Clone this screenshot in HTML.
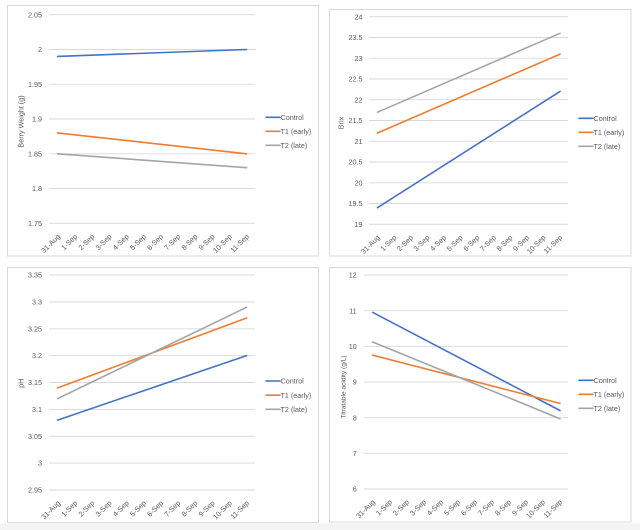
<!DOCTYPE html>
<html><head><meta charset="utf-8"><style>
html,body{margin:0;padding:0;background:#fff;}
svg{display:block;}
text{font-family:"Liberation Sans",sans-serif;fill:#595959;font-size:7.2px;}
.g{stroke:#d9d9d9;stroke-width:0.9;}
.f{fill:#fff;stroke:#d9d9d9;stroke-width:1;}
.s{fill:none;stroke-width:1.6;stroke-linecap:round;}
</style></head><body>
<svg width="640" height="530" viewBox="0 0 640 530" xmlns="http://www.w3.org/2000/svg">
<rect x="0" y="523.5" width="640" height="7" fill="#f3f3f3"/>
<!-- frames -->
<rect class="f" x="7.5" y="5.5" width="311" height="250.5"/>
<rect class="f" x="329.5" y="9.5" width="301.5" height="246.5"/>
<rect class="f" x="7.5" y="267.5" width="311" height="255"/>
<rect class="f" x="329.5" y="267.5" width="301.5" height="254.5"/>

<!-- ===== Panel 1 ===== -->
<g>
<line class="g" x1="49" x2="255" y1="14.7" y2="14.7"/>
<line class="g" x1="49" x2="255" y1="49.5" y2="49.5"/>
<line class="g" x1="49" x2="255" y1="84.2" y2="84.2"/>
<line class="g" x1="49" x2="255" y1="119" y2="119"/>
<line class="g" x1="49" x2="255" y1="153.8" y2="153.8"/>
<line class="g" x1="49" x2="255" y1="188.5" y2="188.5"/>
<line class="g" x1="49" x2="255" y1="223.3" y2="223.3"/>
<g text-anchor="end">
<text x="42" y="17.3">2.05</text>
<text x="42" y="52.1">2</text>
<text x="42" y="86.8">1.95</text>
<text x="42" y="121.6">1.9</text>
<text x="42" y="156.4">1.85</text>
<text x="42" y="191.1">1.8</text>
<text x="42" y="225.9">1.75</text>
</g>
<text transform="translate(23.5,121.5) rotate(-90)" text-anchor="middle">Berry Weight (g)</text>
<g text-anchor="end">
<text transform="translate(60.6,237) rotate(-45)">31-Aug</text>
<text transform="translate(77.8,237) rotate(-45)">1-Sep</text>
<text transform="translate(94.9,237) rotate(-45)">2-Sep</text>
<text transform="translate(112.1,237) rotate(-45)">3-Sep</text>
<text transform="translate(129.3,237) rotate(-45)">4-Sep</text>
<text transform="translate(146.4,237) rotate(-45)">5-Sep</text>
<text transform="translate(163.6,237) rotate(-45)">6-Sep</text>
<text transform="translate(180.8,237) rotate(-45)">7-Sep</text>
<text transform="translate(197.9,237) rotate(-45)">8-Sep</text>
<text transform="translate(215.1,237) rotate(-45)">9-Sep</text>
<text transform="translate(232.3,237) rotate(-45)">10-Sep</text>
<text transform="translate(249.4,237) rotate(-45)">11-Sep</text>
</g>
<line class="s" stroke="#4472C4" x1="57.6" y1="56.4" x2="246.6" y2="49.5"/>
<line class="s" stroke="#ED7D31" x1="57.6" y1="132.9" x2="246.6" y2="153.8"/>
<line class="s" stroke="#A5A5A5" x1="57.6" y1="153.8" x2="246.6" y2="167.7"/>
<line class="s" stroke="#4472C4" x1="266" y1="117.3" x2="280" y2="117.3"/>
<line class="s" stroke="#ED7D31" x1="266" y1="131.3" x2="280" y2="131.3"/>
<line class="s" stroke="#A5A5A5" x1="266" y1="145.3" x2="280" y2="145.3"/>
<text x="280.5" y="120">Control</text>
<text x="280.5" y="134">T1 (early)</text>
<text x="280.5" y="148">T2 (late)</text>
</g>

<!-- ===== Panel 2 ===== -->
<g>
<line class="g" x1="369" x2="568" y1="16.7" y2="16.7"/>
<line class="g" x1="369" x2="568" y1="37.5" y2="37.5"/>
<line class="g" x1="369" x2="568" y1="58.2" y2="58.2"/>
<line class="g" x1="369" x2="568" y1="79" y2="79"/>
<line class="g" x1="369" x2="568" y1="99.7" y2="99.7"/>
<line class="g" x1="369" x2="568" y1="120.5" y2="120.5"/>
<line class="g" x1="369" x2="568" y1="141.3" y2="141.3"/>
<line class="g" x1="369" x2="568" y1="162" y2="162"/>
<line class="g" x1="369" x2="568" y1="182.8" y2="182.8"/>
<line class="g" x1="369" x2="568" y1="203.5" y2="203.5"/>
<line class="g" x1="369" x2="568" y1="224.3" y2="224.3"/>
<g text-anchor="end">
<text x="362.5" y="19.3">24</text>
<text x="362.5" y="40.1">23.5</text>
<text x="362.5" y="60.8">23</text>
<text x="362.5" y="81.6">22.5</text>
<text x="362.5" y="102.3">22</text>
<text x="362.5" y="123.1">21.5</text>
<text x="362.5" y="143.9">21</text>
<text x="362.5" y="164.6">20.5</text>
<text x="362.5" y="185.4">20</text>
<text x="362.5" y="206.1">19.5</text>
<text x="362.5" y="226.9">19</text>
</g>
<text transform="translate(343.5,123) rotate(-90)" text-anchor="middle">Brix</text>
<g text-anchor="end">
<text transform="translate(380.3,238) rotate(-45)">31-Aug</text>
<text transform="translate(396.9,238) rotate(-45)">1-Sep</text>
<text transform="translate(413.5,238) rotate(-45)">2-Sep</text>
<text transform="translate(430,238) rotate(-45)">3-Sep</text>
<text transform="translate(446.6,238) rotate(-45)">4-Sep</text>
<text transform="translate(463.2,238) rotate(-45)">5-Sep</text>
<text transform="translate(479.8,238) rotate(-45)">6-Sep</text>
<text transform="translate(496.4,238) rotate(-45)">7-Sep</text>
<text transform="translate(513,238) rotate(-45)">8-Sep</text>
<text transform="translate(529.5,238) rotate(-45)">9-Sep</text>
<text transform="translate(546.1,238) rotate(-45)">10-Sep</text>
<text transform="translate(562.7,238) rotate(-45)">11-Sep</text>
</g>
<line class="s" stroke="#4472C4" x1="377.5" y1="207.7" x2="560" y2="91.4"/>
<line class="s" stroke="#ED7D31" x1="377.5" y1="133" x2="560" y2="54.1"/>
<line class="s" stroke="#A5A5A5" x1="377.5" y1="112.2" x2="560" y2="33.3"/>
<line class="s" stroke="#4472C4" x1="579" y1="118.3" x2="593" y2="118.3"/>
<line class="s" stroke="#ED7D31" x1="579" y1="132.3" x2="593" y2="132.3"/>
<line class="s" stroke="#A5A5A5" x1="579" y1="146.3" x2="593" y2="146.3"/>
<text x="593.5" y="121">Control</text>
<text x="593.5" y="135">T1 (early)</text>
<text x="593.5" y="149">T2 (late)</text>
</g>

<!-- ===== Panel 3 ===== -->
<g>
<line class="g" x1="49" x2="255" y1="275" y2="275"/>
<line class="g" x1="49" x2="255" y1="301.9" y2="301.9"/>
<line class="g" x1="49" x2="255" y1="328.8" y2="328.8"/>
<line class="g" x1="49" x2="255" y1="355.6" y2="355.6"/>
<line class="g" x1="49" x2="255" y1="382.5" y2="382.5"/>
<line class="g" x1="49" x2="255" y1="409.4" y2="409.4"/>
<line class="g" x1="49" x2="255" y1="436.3" y2="436.3"/>
<line class="g" x1="49" x2="255" y1="463.1" y2="463.1"/>
<line class="g" x1="49" x2="255" y1="490" y2="490"/>
<g text-anchor="end">
<text x="42" y="277.6">3.35</text>
<text x="42" y="304.5">3.3</text>
<text x="42" y="331.4">3.25</text>
<text x="42" y="358.2">3.2</text>
<text x="42" y="385.1">3.15</text>
<text x="42" y="412">3.1</text>
<text x="42" y="438.9">3.05</text>
<text x="42" y="465.7">3</text>
<text x="42" y="492.6">2.95</text>
</g>
<text transform="translate(23.5,383.3) rotate(-90)" text-anchor="middle">pH</text>
<g text-anchor="end">
<text transform="translate(60.6,503.5) rotate(-45)">31-Aug</text>
<text transform="translate(77.8,503.5) rotate(-45)">1-Sep</text>
<text transform="translate(94.9,503.5) rotate(-45)">2-Sep</text>
<text transform="translate(112.1,503.5) rotate(-45)">3-Sep</text>
<text transform="translate(129.3,503.5) rotate(-45)">4-Sep</text>
<text transform="translate(146.4,503.5) rotate(-45)">5-Sep</text>
<text transform="translate(163.6,503.5) rotate(-45)">6-Sep</text>
<text transform="translate(180.8,503.5) rotate(-45)">7-Sep</text>
<text transform="translate(197.9,503.5) rotate(-45)">8-Sep</text>
<text transform="translate(215.1,503.5) rotate(-45)">9-Sep</text>
<text transform="translate(232.3,503.5) rotate(-45)">10-Sep</text>
<text transform="translate(249.4,503.5) rotate(-45)">11-Sep</text>
</g>
<line class="s" stroke="#4472C4" x1="57.6" y1="420.1" x2="246.6" y2="355.6"/>
<line class="s" stroke="#ED7D31" x1="57.6" y1="387.9" x2="246.6" y2="318"/>
<line class="s" stroke="#A5A5A5" x1="57.6" y1="398.6" x2="246.6" y2="307.3"/>
<line class="s" stroke="#4472C4" x1="266" y1="381" x2="280" y2="381"/>
<line class="s" stroke="#ED7D31" x1="266" y1="395.2" x2="280" y2="395.2"/>
<line class="s" stroke="#A5A5A5" x1="266" y1="409.3" x2="280" y2="409.3"/>
<text x="280.5" y="383.7">Control</text>
<text x="280.5" y="397.9">T1 (early)</text>
<text x="280.5" y="412">T2 (late)</text>
</g>

<!-- ===== Panel 4 ===== -->
<g>
<line class="g" x1="364" x2="568" y1="275" y2="275"/>
<line class="g" x1="364" x2="568" y1="310.7" y2="310.7"/>
<line class="g" x1="364" x2="568" y1="346.3" y2="346.3"/>
<line class="g" x1="364" x2="568" y1="382" y2="382"/>
<line class="g" x1="364" x2="568" y1="417.7" y2="417.7"/>
<line class="g" x1="364" x2="568" y1="453.3" y2="453.3"/>
<line class="g" x1="364" x2="568" y1="489" y2="489"/>
<g text-anchor="end">
<text x="356.7" y="277.6">12</text>
<text x="356.7" y="313.3">11</text>
<text x="356.7" y="348.9">10</text>
<text x="356.7" y="384.6">9</text>
<text x="356.7" y="420.3">8</text>
<text x="356.7" y="455.9">7</text>
<text x="356.7" y="491.6">6</text>
</g>
<text transform="translate(345.5,387) rotate(-90)" text-anchor="middle" style="font-size:6.6px">Titratable acidity (g/L)</text>
<g text-anchor="end">
<text transform="translate(375.5,502.5) rotate(-45)">31-Aug</text>
<text transform="translate(392.5,502.5) rotate(-45)">1-Sep</text>
<text transform="translate(409.5,502.5) rotate(-45)">2-Sep</text>
<text transform="translate(426.5,502.5) rotate(-45)">3-Sep</text>
<text transform="translate(443.5,502.5) rotate(-45)">4-Sep</text>
<text transform="translate(460.5,502.5) rotate(-45)">5-Sep</text>
<text transform="translate(477.5,502.5) rotate(-45)">6-Sep</text>
<text transform="translate(494.5,502.5) rotate(-45)">7-Sep</text>
<text transform="translate(511.5,502.5) rotate(-45)">8-Sep</text>
<text transform="translate(528.5,502.5) rotate(-45)">9-Sep</text>
<text transform="translate(545.5,502.5) rotate(-45)">10-Sep</text>
<text transform="translate(562.5,502.5) rotate(-45)">11-Sep</text>
</g>
<line class="s" stroke="#4472C4" x1="372.7" y1="312.4" x2="560" y2="410.5"/>
<line class="s" stroke="#ED7D31" x1="372.7" y1="355.2" x2="560" y2="403.4"/>
<line class="s" stroke="#A5A5A5" x1="372.7" y1="342" x2="560" y2="418.7"/>
<line class="s" stroke="#4472C4" x1="579" y1="380.3" x2="593" y2="380.3"/>
<line class="s" stroke="#ED7D31" x1="579" y1="394.3" x2="593" y2="394.3"/>
<line class="s" stroke="#A5A5A5" x1="579" y1="408.3" x2="593" y2="408.3"/>
<text x="593.5" y="383">Control</text>
<text x="593.5" y="397">T1 (early)</text>
<text x="593.5" y="411">T2 (late)</text>
</g>
</svg>
</body></html>
